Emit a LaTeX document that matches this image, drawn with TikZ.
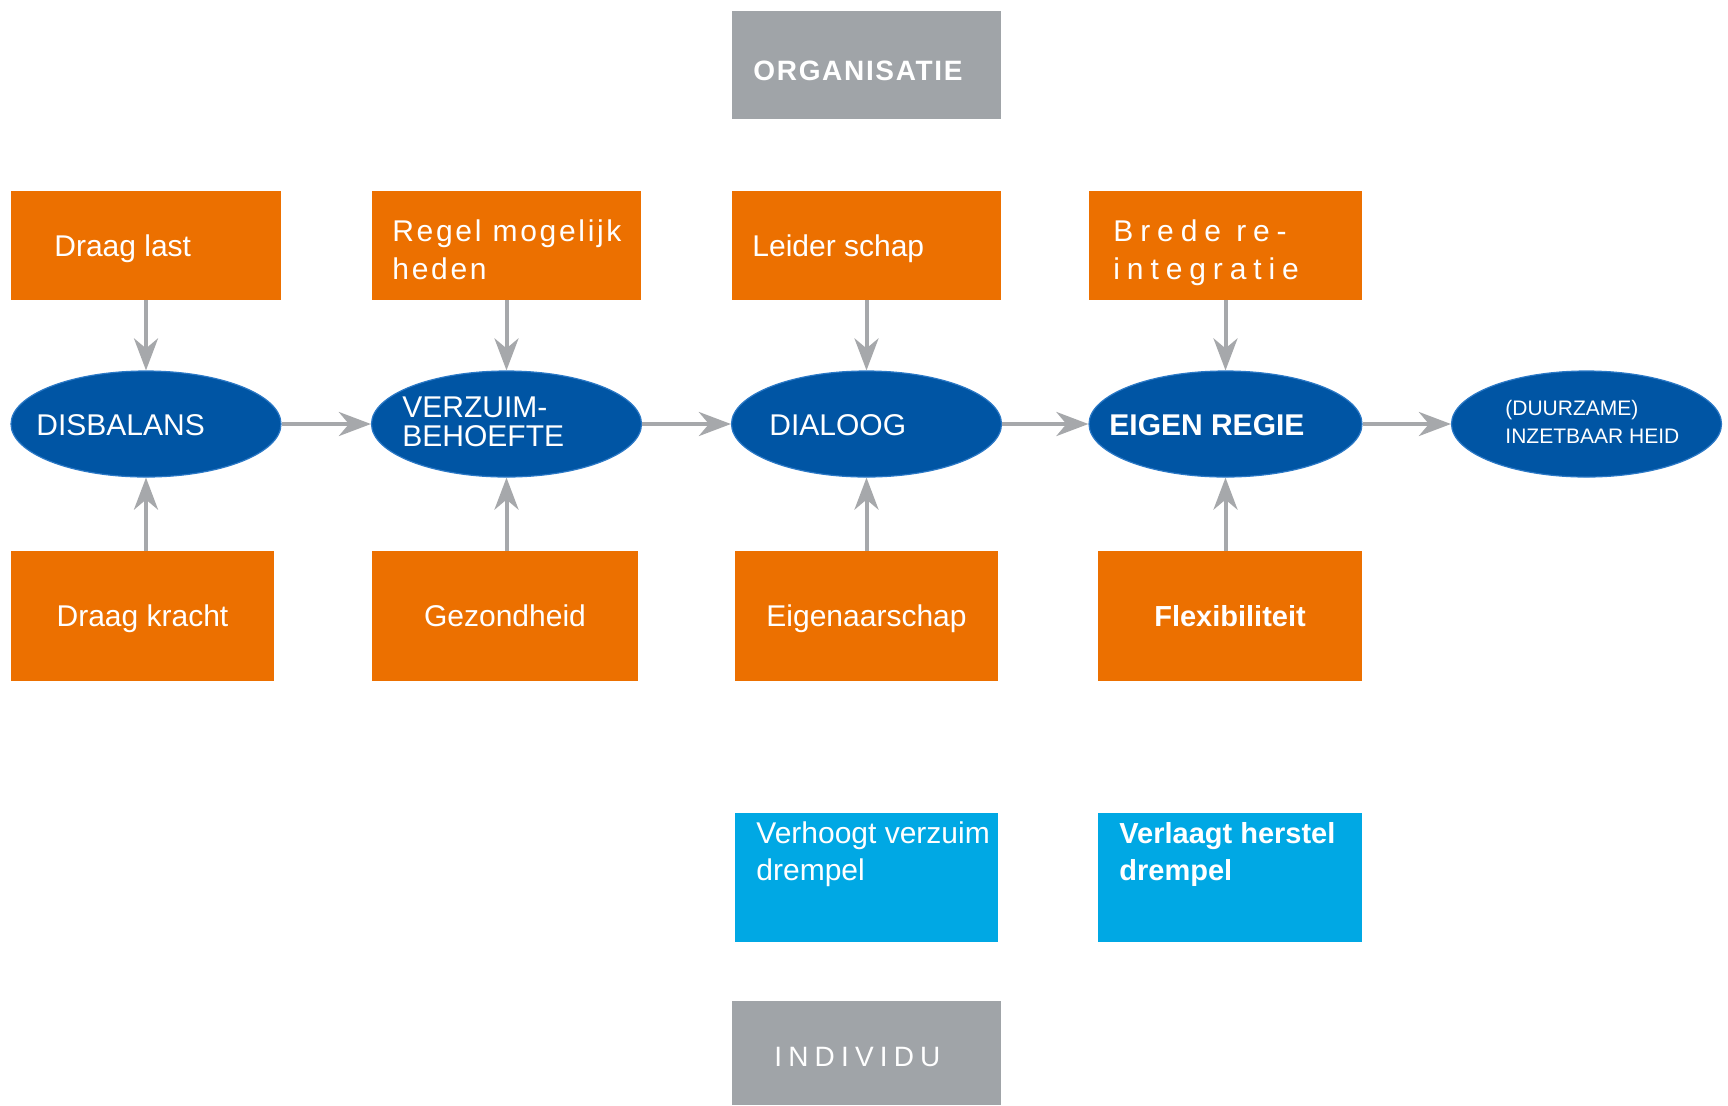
\documentclass[tikz,border=0pt]{standalone}
\usepackage{fontspec}
\setmainfont{Liberation Sans}
\usetikzlibrary{shapes.geometric,arrows.meta}
\definecolor{orgc}{HTML}{EC7000}
\definecolor{ellc}{HTML}{0055A4}
\definecolor{ellb}{HTML}{2A78C6}
\definecolor{cyanc}{HTML}{00A8E4}
\definecolor{grayc}{HTML}{A0A4A8}
\definecolor{arrc}{HTML}{A6A8AB}
\begin{document}
\begin{tikzpicture}[x=0.5pt,y=-0.5pt,
  box/.style={rectangle,inner sep=0pt,draw=none},
  obox/.style={box,fill=orgc},
  gbox/.style={box,fill=grayc},
  cbox/.style={box,fill=cyanc},
  ell/.style={ellipse,fill=ellc,draw=ellb,line width=0.6pt,inner sep=0pt,minimum width=135pt,minimum height=53pt},
  tx/.style={text=white,inner sep=0pt,font=\fontsize{15}{15}\selectfont},
  ctx/.style={tx,text height=10.7pt,text depth=0pt},
  arr/.style={draw=arrc,line width=2pt,-{Stealth[length=16pt,width=12pt,inset=5pt]}},
]
\useasboundingbox (0,0) rectangle (1728,1105);
\fill[white] (0,0) rectangle (1728,1105);

% gray header/footer
\node[gbox,minimum width=134.5pt,minimum height=54pt] (org) at (866.5,65) {};
\node[tx,anchor=base west,font=\fontsize{14}{14}\selectfont\bfseries\addfontfeatures{LetterSpace=6}] (torg) at (753,80) {ORGANISATIE};
\node[gbox,minimum width=134.5pt,minimum height=52pt] (ind) at (866.5,1053) {};
\node[tx,anchor=base west,font=\fontsize{14}{14}\selectfont\addfontfeatures{LetterSpace=22}] (tind) at (774,1066) {INDIVIDU};

% top orange boxes
\node[obox,minimum width=135pt,minimum height=54.5pt] (b1) at (146,245.5) {};
\node[obox,minimum width=134.5pt,minimum height=54.5pt] (b2) at (506.5,245.5) {};
\node[obox,minimum width=134.5pt,minimum height=54.5pt] (b3) at (866.5,245.5) {};
\node[obox,minimum width=136.5pt,minimum height=54.5pt] (b4) at (1225.5,245.5) {};
\node[tx,anchor=base west] (tb1) at (54,256) {Draag last};
\node[tx,anchor=north west,align=left,font=\fontsize{15}{19}\selectfont\addfontfeatures{LetterSpace=9}] (tb2) at (392,219.5) {Regel mogelijk\\heden};
\node[tx,anchor=base west] (tb3) at (752,256) {Leider schap};
\node[tx,anchor=north west,align=left,font=\fontsize{15}{19}\selectfont\addfontfeatures{LetterSpace=23}] (tb4) at (1113,219.5) {Brede re-\\integratie};

% ellipses
\node[ell] (e1) at (146,424) {};
\node[ell] (e2) at (506.5,424) {};
\node[ell] (e3) at (866.5,424) {};
\node[ell,minimum width=136.5pt] (e4) at (1225.5,424) {};
\node[ell] (e5) at (1586.5,424) {};
\node[tx,anchor=base west] (te1) at (36,435) {DISBALANS};
\node[tx,anchor=north west,align=left,font=\fontsize{15}{14.5}\selectfont] (te2) at (402,396.5) {VERZUIM-\\BEHOEFTE};
\node[tx,anchor=base west] (te3) at (769,435) {DIALOOG};
\node[tx,anchor=base west,font=\fontsize{15}{15}\selectfont\bfseries] (te4) at (1109,435) {EIGEN REGIE};
\node[tx,anchor=north west,align=left,font=\fontsize{10.5}{14}\selectfont] (te5) at (1505,400) {(DUURZAME)\\INZETBAAR HEID};

% bottom orange boxes
\node[obox,ctx,minimum width=131.5pt,minimum height=65pt] (c1) at (142.5,616) {Draag kracht};
\node[obox,ctx,minimum width=133pt,minimum height=65pt] (c2) at (505,616) {Gezondheid};
\node[obox,ctx,minimum width=131.5pt,minimum height=65pt] (c3) at (866.5,616) {Eigenaarschap};
\node[obox,ctx,minimum width=132pt,minimum height=65pt,font=\fontsize{14.5}{15}\selectfont\bfseries] (c4) at (1230,616) {Flexibiliteit};

% cyan boxes
\node[cbox,minimum width=131.5pt,minimum height=64.5pt] (d1) at (866.5,877.5) {};
\node[cbox,minimum width=132pt,minimum height=64.5pt] (d2) at (1230,877.5) {};
\node[tx,anchor=north west,align=left,font=\fontsize{15}{18.5}\selectfont] (td1) at (756,821.5) {Verhoogt verzuim\\drempel};
\node[tx,anchor=north west,align=left,font=\fontsize{14.5}{18.5}\selectfont\bfseries] (td2) at (1119,822) {Verlaagt herstel\\drempel};

% arrows
\draw[arr] (b1.south -| e1.north) -- (e1.north);
\draw[arr] (b2.south -| e2.north) -- (e2.north);
\draw[arr] (b3.south -| e3.north) -- (e3.north);
\draw[arr] (b4.south -| e4.north) -- (e4.north);
\draw[arr] (c1.north -| e1.south) -- (e1.south);
\draw[arr] (c2.north -| e2.south) -- (e2.south);
\draw[arr] (c3.north -| e3.south) -- (e3.south);
\draw[arr] (c4.north -| e4.south) -- (e4.south);
\draw[arr] (e1.east) -- (e2.west);
\draw[arr] (e2.east) -- (e3.west);
\draw[arr] (e3.east) -- (e4.west);
\draw[arr] (e4.east) -- (e5.west);
\end{tikzpicture}
\end{document}
